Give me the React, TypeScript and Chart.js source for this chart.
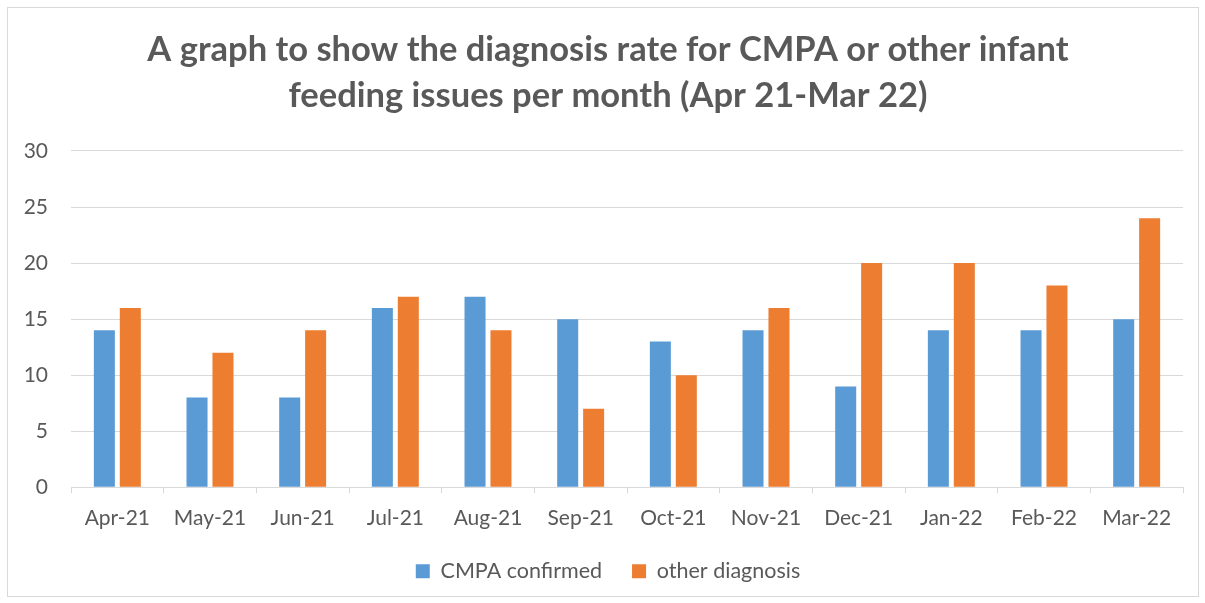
import React, { useEffect, useRef } from "react";
import { Chart, registerables } from "chart.js";

Chart.register(...registerables);

const months = ["Apr-21", "May-21", "Jun-21", "Jul-21", "Aug-21", "Sep-21", "Oct-21", "Nov-21", "Dec-21", "Jan-22", "Feb-22", "Mar-22"];
const cmpaConfirmed = [14, 8, 8, 16, 17, 15, 13, 14, 9, 14, 14, 15];
const otherDiagnosis = [16, 12, 14, 17, 14, 7, 10, 16, 20, 20, 18, 24];
const titleLines = ["A graph to show the diagnosis rate for CMPA or other infant", "feeding issues per month (Apr 21-Mar 22)"];

const FONT = "Lato, 'Open Sans', sans-serif";
const TEXT = "#595959";
const GRID = "#d9d9d9";

export default function App() {
  const ref = useRef<HTMLCanvasElement | null>(null);
  useEffect(() => {
    if (!ref.current) return;
    const chart = new Chart(ref.current, {
      type: "bar",
      data: {
        labels: months,
        datasets: [
          { label: "CMPA confirmed", data: cmpaConfirmed, backgroundColor: "#5B9BD5", categoryPercentage: 0.56, barPercentage: 0.81 },
          { label: "other diagnosis", data: otherDiagnosis, backgroundColor: "#ED7D31", categoryPercentage: 0.56, barPercentage: 0.81 },
        ],
      },
      options: {
        animation: false,
        responsive: false,
        maintainAspectRatio: false,
        layout: { padding: { left: 11, right: 0, top: 0, bottom: 11 } },
        plugins: {
          title: {
            display: true,
            text: titleLines,
            color: TEXT,
            font: { family: FONT, size: 34.5, weight: "bold", lineHeight: 1.333 },
            padding: { top: 27, bottom: 32 },
          },
          legend: {
            position: "bottom",
            labels: {
              color: TEXT,
              font: { family: FONT, size: 21.5 },
              boxWidth: 14,
              boxHeight: 14,
              padding: 30,
            },
          },
          tooltip: { enabled: false },
        },
        scales: {
          x: {
            grid: { drawOnChartArea: false, drawTicks: true, tickLength: 6, color: GRID, offset: true },
            border: { color: GRID, width: 1 },
            ticks: { color: TEXT, font: { family: FONT, size: 21 }, padding: 12, maxRotation: 0 },
            afterFit: (scale: any) => {
              scale.height = scale.height - 12;
            },
          },
          y: {
            min: 0,
            max: 30,
            ticks: { stepSize: 5, color: TEXT, font: { family: FONT, size: 21 }, padding: 23 },
            grid: { color: GRID, drawTicks: false },
            border: { display: false },
            afterFit: (scale: any) => {
              scale.width = 60;
            },
          },
          yRight: {
            position: "right",
            display: true,
            ticks: { display: false },
            grid: { display: false },
            border: { display: false },
            afterFit: (scale: any) => {
              scale.width = 22;
            },
          },
        },
      },
    });
    return () => chart.destroy();
  }, []);
  return (
    <div style={{ position: "fixed", left: 0, top: 0, width: 1205, height: 603, background: "#fff" }}>
      <div style={{ position: "absolute", left: 7, top: 7, width: 1192, height: 590, border: "1px solid #d9d9d9", boxSizing: "border-box" }} />
      <canvas ref={ref} width={1205} height={603} style={{ position: "absolute", left: 0, top: 0 }} />
    </div>
  );
}
